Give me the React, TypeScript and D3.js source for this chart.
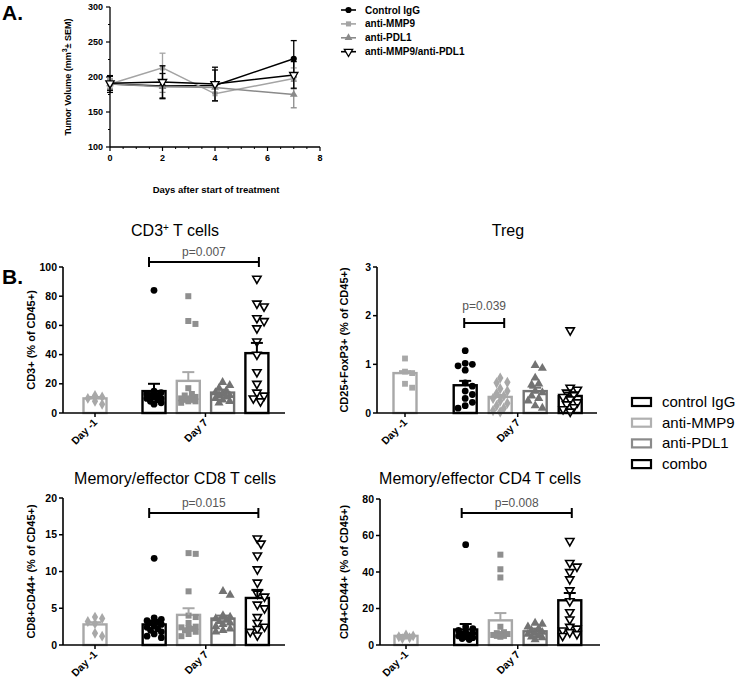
import React from 'react';
import * as d3 from 'd3';

// ---------- Panel A data ----------
const days = [0, 2, 4, 7];
const seriesNamesA = ['Control IgG', 'anti-MMP9', 'anti-PDL1', 'anti-MMP9/anti-PDL1'];
const tumorControl = [190, 187, 188, 226];
const tumorControlErr = [12, 18, 22, 26];
const tumorMmp9 = [190, 213, 176, 198];
const tumorMmp9Err = [8, 21, 10, 15];
const tumorPdl1 = [190, 186, 185, 175];
const tumorPdl1Err = [6, 8, 8, 19];
const tumorCombo = [191, 193, 190, 203];
const tumorComboErr = [10, 23, 24, 19];
const yTicksA = [100, 150, 200, 250, 300];
const xTicksA = [0, 2, 4, 6, 8];

// ---------- Panel B data ----------
const groupNamesB = ['control IgG', 'anti-MMP9', 'anti-PDL1', 'combo'];
const dayLabels = ['Day -1', 'Day 7'];

const cd3Day1 = [12, 11, 10, 8, 6];
const cd3Control = [84, 15, 14, 13, 12, 12, 11, 10, 10, 9, 8, 7, 6];
const cd3Mmp9 = [80, 63, 61, 17, 13, 12, 11, 10, 10, 9, 9, 8, 8, 7];
const cd3Pdl1 = [21, 19, 17, 15, 14, 13, 12, 12, 11, 10, 9, 8, 7];
const cd3Combo = [92, 75, 73, 65, 63, 58, 49, 40, 28, 20, 14, 12, 10, 8];
const cd3Means = [10, 15, 22, 14, 41];
const cd3SemTop = [11, 20, 28, 16, 48];
const cd3Ticks = [0, 20, 40, 60, 80, 100];

const tregDay1 = [1.12, 0.85, 0.82, 0.6, 0.52];
const tregControl = [1.28, 1.02, 1.0, 0.97, 0.88, 0.62, 0.55, 0.45, 0.38, 0.3, 0.22, 0.15, 0.1];
const tregMmp9 = [0.72, 0.63, 0.62, 0.5, 0.45, 0.4, 0.35, 0.3, 0.25, 0.2, 0.15, 0.1, 0.05, 0.02];
const tregPdl1 = [0.98, 0.92, 0.72, 0.6, 0.58, 0.45, 0.42, 0.35, 0.3, 0.25, 0.15, 0.1];
const tregCombo = [1.7, 0.52, 0.48, 0.42, 0.38, 0.33, 0.28, 0.22, 0.18, 0.12, 0.08, 0.03];
const tregMeans = [0.82, 0.57, 0.33, 0.45, 0.35];
const tregSemTop = [0.86, 0.66, 0.37, 0.52, 0.42];
const tregTicks = [0, 1, 2, 3];

const cd8Day1 = [3.8, 3.6, 3.2, 2.9, 1.6, 1.2];
const cd8Control = [11.8, 3.7, 3.5, 3.3, 3.1, 3.0, 2.8, 2.6, 2.4, 2.2, 2.0, 1.8, 1.5, 1.2, 1.0];
const cd8Mmp9 = [12.5, 12.4, 7.3, 4.0, 3.8, 3.0, 2.5, 2.4, 2.3, 2.2, 2.0, 1.8, 1.5, 1.2];
const cd8Pdl1 = [7.3, 6.8, 4.0, 3.8, 3.6, 3.4, 3.2, 3.0, 2.8, 2.5, 2.2, 2.0, 1.8];
const cd8Combo = [14.5, 13.8, 12.2, 10.3, 8.5, 7.0, 6.6, 5.5, 5.0, 3.8, 3.0, 2.5, 2.2, 1.8, 1.3];
const cd8Means = [2.8, 2.8, 4.1, 3.6, 6.4];
const cd8SemTop = [3.1, 3.2, 5.0, 4.0, 7.5];
const cd8Ticks = [0, 5, 10, 15, 20];

const cd4Day1 = [5.5, 5, 4.5, 4, 3.5];
const cd4Control = [55, 10, 9, 8, 7, 6.5, 6, 5.5, 5, 4.5, 4, 3.5, 3];
const cd4Mmp9 = [49.5, 41.5, 37, 10, 7, 6.5, 6, 6, 5.5, 5, 5, 4.5];
const cd4Pdl1 = [12, 11.5, 10, 9, 8, 7, 6.5, 6, 5, 4.5, 4, 3];
const cd4Combo = [57, 45, 43, 40, 36, 30, 24, 18, 14, 10, 9, 8, 7, 6, 5];
const cd4Means = [5, 8.5, 13.5, 7.5, 24.5];
const cd4SemTop = [5.5, 11.5, 17.5, 9, 28.5];
const cd4Ticks = [0, 20, 40, 60, 80];

const pValues = ['p=0.007', 'p=0.039', 'p=0.015', 'p=0.008'];

// ---------- styling ----------
const FONT = '"Liberation Sans", Arial, Helvetica, sans-serif';
const BLACK = '#000';
const LIGHT = '#a8a8a8';
const MID = '#8f8f8f';
const DARK = '#737373';

type Shape = 'circle' | 'square' | 'diamond' | 'triUp' | 'triDown';

function symPath(shape: Shape, size: number): string {
  const t =
    shape === 'circle' ? d3.symbolCircle :
    shape === 'square' ? d3.symbolSquare :
    shape === 'diamond' ? d3.symbolDiamond :
    d3.symbolTriangle;
  return d3.symbol().type(t).size(size)() || '';
}

function Marker(p: { shape: Shape; x: number; y: number; size: number; fill: string; stroke?: string; sw?: number }) {
  const rot = p.shape === 'triDown' ? ' rotate(180)' : '';
  return (
    <path
      d={symPath(p.shape, p.size)}
      transform={`translate(${p.x},${p.y})${rot}`}
      fill={p.fill}
      stroke={p.stroke || 'none'}
      strokeWidth={p.sw || 0}
    />
  );
}

function swarm(values: number[], y: (v: number) => number, dia: number, maxHalf: number): number[] {
  const order = values.map((_, i) => i).sort((a, b) => values[b] - values[a]);
  const placed: { x: number; y: number }[] = [];
  const xs = new Array(values.length).fill(0);
  const step = dia * 0.55;
  for (const i of order) {
    const py = y(values[i]);
    let chosen = 0;
    let bestScore = -1;
    for (let k = 0; k < 30; k++) {
      const m = Math.ceil(k / 2);
      const cand = k === 0 ? 0 : (k % 2 === 1 ? m * step : -m * step);
      if (Math.abs(cand) > maxHalf) continue;
      const minD = placed.length ? Math.min(...placed.map(p => Math.hypot(p.x - cand, p.y - py))) : 1e9;
      if (minD >= dia * 0.9) { chosen = cand; bestScore = 1e9; break; }
      if (minD > bestScore) { bestScore = minD; chosen = cand; }
    }
    xs[i] = chosen;
    placed.push({ x: chosen, y: py });
  }
  return xs;
}

// ---------- Panel A ----------
function PanelA() {
  const x = d3.scaleLinear().domain([0, 8]).range([110, 320]);
  const y = d3.scaleLinear().domain([100, 300]).range([147, 7]);
  const series = [
    { name: seriesNamesA[0], v: tumorControl, e: tumorControlErr, color: BLACK, shape: 'circle' as Shape, size: 30, fill: BLACK },
    { name: seriesNamesA[1], v: tumorMmp9, e: tumorMmp9Err, color: '#a4a4a4', shape: 'square' as Shape, size: 26, fill: '#a4a4a4' },
    { name: seriesNamesA[2], v: tumorPdl1, e: tumorPdl1Err, color: '#8a8a8a', shape: 'triUp' as Shape, size: 26, fill: '#8a8a8a' },
    { name: seriesNamesA[3], v: tumorCombo, e: tumorComboErr, color: BLACK, shape: 'triDown' as Shape, size: 30, fill: '#fff' },
  ];
  const line = d3.line<number>().x((_, i) => x(days[i])).y(d => y(d));
  const minorX = d3.range(0, 8.01, 0.5).filter(v => v % 2 !== 0);
  const minorY = d3.range(125, 300, 50);
  return (
    <g fontFamily={FONT}>
      <text x={2} y={20} fontSize={21} fontWeight="bold">A.</text>
      <line x1={x(0)} x2={x(8)} y1={y(100)} y2={y(100)} stroke={BLACK} strokeWidth={1.3} />
      <line x1={x(0)} x2={x(0)} y1={y(100)} y2={y(300)} stroke={BLACK} strokeWidth={1.3} />
      {xTicksA.map(t => (
        <g key={'xt' + t}>
          <line x1={x(t)} x2={x(t)} y1={y(100)} y2={y(100) + 4} stroke={BLACK} strokeWidth={1.2} />
          <text x={x(t)} y={161} fontSize={9} fontWeight="bold" textAnchor="middle">{t}</text>
        </g>
      ))}
      {minorX.map(t => (
        <line key={'mx' + t} x1={x(t)} x2={x(t)} y1={y(100)} y2={y(100) + 2} stroke={BLACK} strokeWidth={1} />
      ))}
      {yTicksA.map(t => (
        <g key={'yt' + t}>
          <line x1={x(0) - 4} x2={x(0)} y1={y(t)} y2={y(t)} stroke={BLACK} strokeWidth={1.2} />
          <text x={x(0) - 7} y={y(t) + 3} fontSize={9} fontWeight="bold" textAnchor="end">{t}</text>
        </g>
      ))}
      {minorY.map(t => (
        <line key={'my' + t} x1={x(0) - 2} x2={x(0)} y1={y(t)} y2={y(t)} stroke={BLACK} strokeWidth={1} />
      ))}
      <text transform={`translate(71,${y(200)}) rotate(-90)`} fontSize={9} fontWeight="bold" textAnchor="middle">
        Tumor Volume (mm<tspan dy={-4} fontSize={7}>3</tspan><tspan dy={4}>± SEM)</tspan>
      </text>
      <text x={216} y={193} fontSize={9.5} fontWeight="bold" textAnchor="middle">Days after start of treatment</text>
      {series.map((s, si) => (
        <g key={'s' + si}>
          <path d={line(s.v) || ''} fill="none" stroke={s.color} strokeWidth={1.5} />
          {s.v.map((v, i) => (
            <g key={i}>
              <line x1={x(days[i])} x2={x(days[i])} y1={y(v - s.e[i])} y2={y(v + s.e[i])} stroke={s.color} strokeWidth={1.3} />
              <line x1={x(days[i]) - 3} x2={x(days[i]) + 3} y1={y(v + s.e[i])} y2={y(v + s.e[i])} stroke={s.color} strokeWidth={1.3} />
              <line x1={x(days[i]) - 3} x2={x(days[i]) + 3} y1={y(v - s.e[i])} y2={y(v - s.e[i])} stroke={s.color} strokeWidth={1.3} />
              <Marker shape={s.shape} x={x(days[i])} y={y(v)} size={s.size} fill={s.fill} stroke={s.shape === 'triDown' ? BLACK : undefined} sw={1.3} />
            </g>
          ))}
        </g>
      ))}
      {series.map((s, si) => {
        const ly = 10 + si * 13.9;
        return (
          <g key={'lg' + si}>
            <line x1={341} x2={356} y1={ly} y2={ly} stroke={s.color} strokeWidth={1.6} />
            <Marker shape={s.shape} x={348.5} y={ly} size={s.size} fill={s.fill} stroke={s.shape === 'triDown' ? BLACK : undefined} sw={1.3} />
            <text x={365} y={ly + 3.5} fontSize={10} fontWeight="bold">{s.name}</text>
          </g>
        );
      })}
    </g>
  );
}

// ---------- Panel B ----------
type PanelCfg = {
  axisX: number; xEnd: number; yTop: number; yBot: number; max: number; ticks: number[];
  day1X: number; slot: number;
  title: React.ReactNode; titleX: number; titleY: number;
  ylabel: string; ylabelX: number;
  groups: number[][]; means: number[]; sems: number[];
  day1Shape: Shape; mmp9Shape: Shape; mmp9Color: string;
  br: [number, number]; brOff: [number, number]; brY: number; pText: string; pDy: number;
};

function BarPanel({ c }: { c: PanelCfg }) {
  const y = d3.scaleLinear().domain([0, c.max]).range([c.yBot, c.yTop]);
  const pos = [0, 1.72, 2.72, 3.72, 4.72];
  const xs = pos.map(p => c.day1X + p * c.slot);
  const bw = 23;
  const barColors = [LIGHT, BLACK, LIGHT, DARK, BLACK];
  const shapes: Shape[] = [c.day1Shape, 'circle', c.mmp9Shape, 'triUp', 'triDown'];
  const ptFill = [LIGHT, BLACK, c.mmp9Color, DARK, '#fff'];
  const sizes = [34, 36, 36, 36, 30];
  const day7X = (xs[1] + xs[4]) / 2;
  const bx1 = xs[c.br[0]] + c.brOff[0];
  const bx2 = xs[c.br[1]] + c.brOff[1];
  return (
    <g fontFamily={FONT}>
      <text x={c.titleX} y={c.titleY} fontSize={16} textAnchor="middle">{c.title}</text>
      {c.means.map((m, i) => (
        <rect key={'b' + i} x={xs[i] - bw / 2} y={y(m)} width={bw} height={c.yBot - y(m)} fill="#fff" stroke={barColors[i]} strokeWidth={2.4} />
      ))}
      {c.groups.map((g, gi) => {
        const off = swarm(g, y, 6.5, 9);
        return g.map((v, i) => (
          <Marker key={`p${gi}-${i}`} shape={shapes[gi]} x={xs[gi] + off[i]} y={y(v)} size={sizes[gi]} fill={ptFill[gi]}
            stroke={gi === 4 ? BLACK : undefined} sw={1.6} />
        ));
      })}
      {c.means.map((m, i) => (
        <g key={'e' + i}>
          <line x1={xs[i]} x2={xs[i]} y1={y(m)} y2={y(c.sems[i])} stroke={barColors[i]} strokeWidth={2} />
          <line x1={xs[i] - 6} x2={xs[i] + 6} y1={y(c.sems[i])} y2={y(c.sems[i])} stroke={barColors[i]} strokeWidth={2} />
        </g>
      ))}
      <line x1={c.axisX} x2={c.xEnd} y1={c.yBot} y2={c.yBot} stroke={BLACK} strokeWidth={1.6} />
      <line x1={c.axisX} x2={c.axisX} y1={c.yBot} y2={c.yTop} stroke={BLACK} strokeWidth={1.6} />
      {c.ticks.map(t => (
        <g key={'t' + t}>
          <line x1={c.axisX - 4} x2={c.axisX} y1={y(t)} y2={y(t)} stroke={BLACK} strokeWidth={1.5} />
          <text x={c.axisX - 6} y={y(t) + 3.6} fontSize={10.5} fontWeight="bold" textAnchor="end">{t}</text>
        </g>
      ))}
      {[xs[0], day7X].map((tx, i) => (
        <g key={'xd' + i}>
          <line x1={tx} x2={tx} y1={c.yBot} y2={c.yBot + 4} stroke={BLACK} strokeWidth={1.5} />
          <text transform={`translate(${tx + 3},${c.yBot + 10}) rotate(-45)`} fontSize={10.5} fontWeight="bold" textAnchor="end">{dayLabels[i]}</text>
        </g>
      ))}
      <text transform={`translate(${c.ylabelX},${(c.yTop + c.yBot) / 2}) rotate(-90)`} fontSize={11} fontWeight="bold" textAnchor="middle">{c.ylabel}</text>
      <g stroke={BLACK} strokeWidth={2}>
        <line x1={bx1} x2={bx2} y1={c.brY} y2={c.brY} />
        <line x1={bx1} x2={bx1} y1={c.brY - 5} y2={c.brY + 5} />
        <line x1={bx2} x2={bx2} y1={c.brY - 5} y2={c.brY + 5} />
      </g>
      <text x={(bx1 + bx2) / 2} y={c.brY - c.pDy} fontSize={12} fill="#555" textAnchor="middle">{c.pText}</text>
    </g>
  );
}

const cd3Title = (<>CD3<tspan dy={-5} fontSize={10}>+</tspan><tspan dy={5}> T cells</tspan></>);

const panels: PanelCfg[] = [
  {
    axisX: 63, xEnd: 285, yTop: 267, yBot: 413, max: 100, ticks: cd3Ticks, day1X: 95, slot: 34.3,
    title: cd3Title, titleX: 175, titleY: 236, ylabel: 'CD3+  (% of CD45+)', ylabelX: 35,
    groups: [cd3Day1, cd3Control, cd3Mmp9, cd3Pdl1, cd3Combo], means: cd3Means, sems: cd3SemTop,
    day1Shape: 'diamond', mmp9Shape: 'square', mmp9Color: MID,
    br: [1, 4], brOff: [-5, 2], brY: 262, pText: pValues[0], pDy: 6,
  },
  {
    axisX: 377, xEnd: 597, yTop: 267, yBot: 413, max: 3, ticks: tregTicks, day1X: 405, slot: 35,
    title: 'Treg', titleX: 508, titleY: 236, ylabel: 'CD25+FoxP3+ (% of CD45+)', ylabelX: 348,
    groups: [tregDay1, tregControl, tregMmp9, tregPdl1, tregCombo], means: tregMeans, sems: tregSemTop,
    day1Shape: 'square', mmp9Shape: 'diamond', mmp9Color: LIGHT,
    br: [1, 2], brOff: [-1, 4], brY: 323, pText: pValues[1], pDy: 13,
  },
  {
    axisX: 63, xEnd: 285, yTop: 498, yBot: 645, max: 20, ticks: cd8Ticks, day1X: 95, slot: 34.4,
    title: 'Memory/effector  CD8 T cells', titleX: 175, titleY: 484, ylabel: 'CD8+CD44+  (% of CD45+)', ylabelX: 35,
    groups: [cd8Day1, cd8Control, cd8Mmp9, cd8Pdl1, cd8Combo], means: cd8Means, sems: cd8SemTop,
    day1Shape: 'diamond', mmp9Shape: 'square', mmp9Color: MID,
    br: [1, 4], brOff: [-5, 1], brY: 513, pText: pValues[2], pDy: 6,
  },
  {
    axisX: 380, xEnd: 600, yTop: 499, yBot: 645, max: 80, ticks: cd4Ticks, day1X: 406, slot: 34.7,
    title: 'Memory/effector  CD4 T cells', titleX: 480, titleY: 484, ylabel: 'CD4+CD44+ (% of CD45+)', ylabelX: 348,
    groups: [cd4Day1, cd4Control, cd4Mmp9, cd4Pdl1, cd4Combo], means: cd4Means, sems: cd4SemTop,
    day1Shape: 'diamond', mmp9Shape: 'square', mmp9Color: MID,
    br: [1, 4], brOff: [-4, 2], brY: 513, pText: pValues[3], pDy: 6,
  },
];

function LegendB() {
  const colors = [BLACK, '#b0b0b0', '#8a8a8a', BLACK];
  return (
    <g fontFamily={FONT}>
      {groupNamesB.map((n, i) => {
        const ly = 402 + i * 20.7;
        return (
          <g key={n}>
            <rect x={632} y={ly - 4} width={19} height={8} fill="#fff" stroke={colors[i]} strokeWidth={2.2} />
            <text x={662} y={ly + 5} fontSize={15}>{n}</text>
          </g>
        );
      })}
    </g>
  );
}

export default function App() {
  return (
    <svg width={740} height={681} viewBox="0 0 740 681" style={{ position: 'absolute', left: 0, top: 0, background: '#fff' }}>
      <rect x={0} y={0} width={740} height={681} fill="#fff" />
      <PanelA />
      <text x={2} y={284} fontSize={21} fontWeight="bold" fontFamily={FONT}>B.</text>
      {panels.map((c, i) => <BarPanel key={i} c={c} />)}
      <LegendB />
    </svg>
  );
}
